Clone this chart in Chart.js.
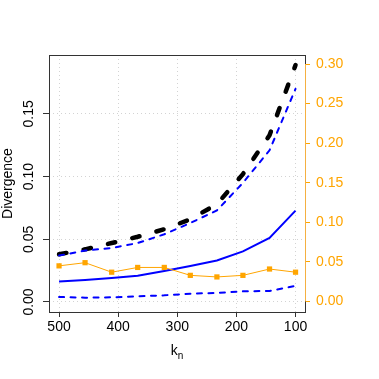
<!DOCTYPE html>
<html>
<head>
<meta charset="utf-8">
<script src="https://cdn.jsdelivr.net/npm/chart.js@4.4.1/dist/chart.umd.min.js"></script>
<style>
html, body { margin: 0; padding: 0; background: #fff; }
</style>
</head>
<body>
<canvas id="divergence_chart" width="379" height="379"></canvas>
<script>
// k_n values along the (reversed) x axis
const kn = [500, 456, 411, 367, 322, 278, 233, 189, 144, 100];

// left axis series
const blackDashed = [0.038, 0.042, 0.047, 0.052, 0.058, 0.066, 0.078, 0.102, 0.133, 0.189];
const blueDashed = [0.037, 0.041, 0.043, 0.047, 0.054, 0.063, 0.073, 0.095, 0.121, 0.170];
const blueSolid = [0.0164, 0.0176, 0.0192, 0.0210, 0.0247, 0.0287, 0.0331, 0.0403, 0.0511, 0.0729];
const blueLow = [0.0040, 0.0034, 0.0037, 0.0045, 0.0053, 0.0066, 0.0072, 0.0085, 0.0088, 0.0128];

// right axis series
const orangeRight = [0.045, 0.049, 0.037, 0.043, 0.043, 0.033, 0.031, 0.033, 0.041, 0.037];

const xTicks = [500, 400, 300, 200, 100];
const leftTicks = [0, 0.05, 0.10, 0.15];
const rightTicks = [0, 0.05, 0.10, 0.15, 0.20, 0.25, 0.30];

const FONT = '"Liberation Sans", Arial, sans-serif';
const ORANGE = '#FFA500';

const pts = ys => ys.map((y, i) => ({ x: kn[i], y: y }));
const fixedTicks = vals => scale => { scale.ticks = vals.map(v => ({ value: v })); };

const frame = {
    id: 'frame',
    afterDatasetsDraw(chart) {
        const { ctx, chartArea: a, scales } = chart;
        ctx.save();
        ctx.strokeStyle = '#333';
        ctx.lineWidth = 1;
        ctx.strokeRect(a.left + 0.5, a.top + 0.5, a.right - a.left, a.bottom - a.top);

        // right axis line only spans the tick range, like R's axis()
        ctx.strokeStyle = '#f5b041';
        ctx.beginPath();
        ctx.moveTo(a.right + 0.5, scales.y1.getPixelForValue(rightTicks[0]));
        ctx.lineTo(a.right + 0.5, scales.y1.getPixelForValue(rightTicks[rightTicks.length - 1]));
        ctx.stroke();

        // x title k with subscript n
        ctx.fillStyle = '#000';
        ctx.textBaseline = 'alphabetic';
        ctx.font = '14px ' + FONT;
        const kw = ctx.measureText('k').width;
        ctx.font = '10px ' + FONT;
        const nw = ctx.measureText('n').width;
        const cx = (a.left + a.right) / 2;
        const x0 = cx - (kw + nw) / 2;
        ctx.font = '14px ' + FONT;
        ctx.fillText('k', x0, 355);
        ctx.font = '10px ' + FONT;
        ctx.fillText('n', x0 + kw, 359);
        ctx.restore();
    }
};

const ctx = document.getElementById('divergence_chart');
const divergence_chart = new Chart(ctx, {
    type: 'line',
    data: {
        datasets: [{
            label: 'orange',
            data: pts(orangeRight),
            yAxisID: 'y1',
            borderColor: ORANGE,
            backgroundColor: ORANGE,
            borderWidth: 1,
            pointStyle: 'rect',
            pointRadius: 3.7,
            pointBorderWidth: 0
        }, {
            label: 'blue low',
            data: pts(blueLow),
            yAxisID: 'y',
            borderColor: '#0000FF',
            borderWidth: 2,
            borderDash: [5, 6.5],
            borderCapStyle: 'round',
            pointRadius: 0
        }, {
            label: 'blue solid',
            data: pts(blueSolid),
            yAxisID: 'y',
            borderColor: '#0000FF',
            borderWidth: 2,
            pointRadius: 0
        }, {
            label: 'blue dashed',
            data: pts(blueDashed),
            yAxisID: 'y',
            borderColor: '#0000FF',
            borderWidth: 2,
            borderDash: [5, 6.5],
            borderCapStyle: 'round',
            pointRadius: 0
        }, {
            label: 'black dashed',
            data: pts(blackDashed),
            yAxisID: 'y',
            borderColor: '#000000',
            borderWidth: 4.5,
            borderDash: [7.5, 17.5],
            borderCapStyle: 'round',
            pointRadius: 0
        }]
    },
    options: {
        responsive: false,
        animation: false,
        devicePixelRatio: 1,
        layout: { padding: { top: 55, left: 0, right: 0, bottom: 0 } },
        plugins: {
            legend: { display: false },
            tooltip: { enabled: false }
        },
        scales: {
            x: {
                type: 'linear',
                position: 'bottom',
                reverse: true,
                min: 84,
                max: 517,
                afterBuildTicks: fixedTicks(xTicks),
                afterFit: s => { s.height = 67; },
                border: { display: false, dash: [1, 3] },
                grid: {
                    color: '#d3d3d3',
                    tickColor: '#333',
                    tickLength: 5,
                    tickBorderDash: []
                },
                ticks: {
                    color: '#000',
                    font: { family: FONT, size: 14 },
                    padding: 2,
                    maxRotation: 0,
                    callback: v => String(v)
                }
            },
            y: {
                type: 'linear',
                position: 'left',
                min: -0.008,
                max: 0.197,
                afterBuildTicks: fixedTicks(leftTicks),
                afterFit: s => { s.width = 49; },
                border: { display: false, dash: [1, 3] },
                grid: {
                    color: '#d3d3d3',
                    tickColor: '#333',
                    tickLength: 6,
                    tickBorderDash: []
                },
                ticks: {
                    color: '#000',
                    font: { family: FONT, size: 14 },
                    padding: 0,
                    minRotation: 90,
                    maxRotation: 90,
                    crossAlign: 'center',
                    callback: v => v.toFixed(2)
                },
                title: {
                    display: true,
                    text: 'Divergence',
                    color: '#000',
                    font: { family: FONT, size: 14 },
                    padding: 0
                }
            },
            y1: {
                type: 'linear',
                position: 'right',
                min: -0.0133,
                max: 0.3114,
                afterBuildTicks: fixedTicks(rightTicks),
                afterFit: s => { s.width = 74; },
                border: { display: false },
                grid: {
                    drawOnChartArea: false,
                    tickColor: ORANGE,
                    tickLength: 5
                },
                ticks: {
                    color: ORANGE,
                    font: { family: FONT, size: 14 },
                    padding: 6,
                    callback: v => v.toFixed(2)
                }
            }
        }
    },
    plugins: [frame]
});
</script>
</body>
</html>
